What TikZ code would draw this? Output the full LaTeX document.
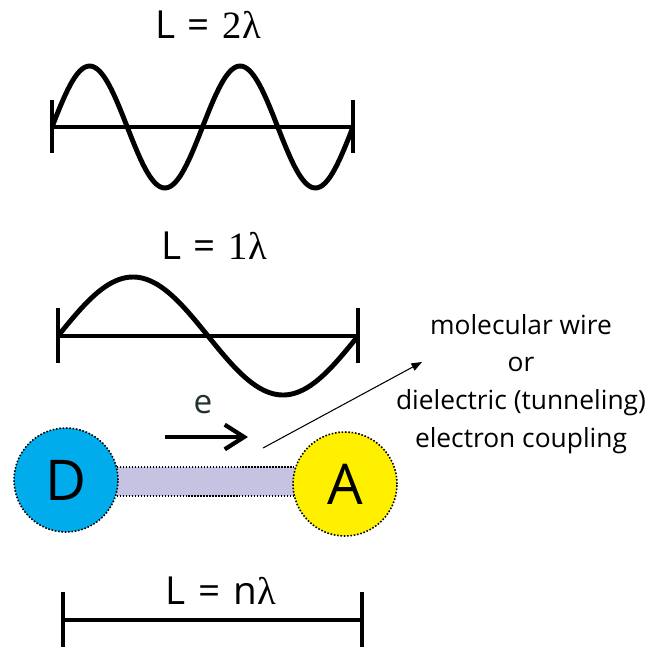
\documentclass[tikz,border=0pt]{standalone}
\usepackage{fontspec}
\setmainfont{Open Sans}
\newfontfamily\lamfont{Liberation Serif}
\usetikzlibrary{positioning, arrows.meta, calc}

\newcommand{\lam}{{\lamfont λ}}

\begin{document}
\begin{tikzpicture}[
    x=0.02cm,
    y=-0.02cm,
    wave/.style={line width=2.8pt, line join=round},
    bar/.style={line width=2.6pt},
    lengthlabel/.style={font=\fontsize{22}{26}\selectfont, inner sep=0pt},
    site/.style={circle, minimum size=2.08cm, inner sep=0pt,
        draw=black, densely dotted, line width=0.9pt,
        font=\fontsize{32}{36}\selectfont},
    wire/.style={rectangle, fill=colWire, draw=black, densely dotted,
        line width=0.7pt, minimum height=0.58cm, inner sep=0pt}
]

\definecolor{colD}{RGB}{0,172,236}
\definecolor{colA}{RGB}{255,240,0}
\definecolor{colWire}{RGB}{197,195,225}
\definecolor{colE}{RGB}{30,52,44}

\useasboundingbox (0,0) rectangle (663,650);

% two wavelengths
\node[lengthlabel] (twolam) at (208,25) {L\,\,=\,\,{\lamfont 2}\lam};
\draw[bar] (52,127) -- (353,127);
\foreach \xt in {52, 353} {
    \draw[bar] (\xt,100) -- (\xt,153);
}
\draw[wave] plot[domain=0:1, samples=120, smooth] ({52+301*\x}, {127-61*sin(720*\x)});

% one wavelength
\node[lengthlabel] (onelam) at (214,246) {L\,\,=\,\,{\lamfont 1}\lam};
\draw[bar] (58,336) -- (358,336);
\foreach \xt in {58, 358} {
    \draw[bar] (\xt,308) -- (\xt,363);
}
\draw[wave] plot[domain=0:1, samples=100, smooth] ({58+300*\x}, {336-59*sin(360*\x)});

% donor -- bridge -- acceptor
\node[wire, minimum width=5.58cm] (bridge) at (205.5,481.5) {};
\node[site, fill=colD] (D) at (66,480) {D};
\node[site, fill=colA] (A) at (345,484) {A};

\node[text=colE, font=\fontsize{19}{22}\selectfont, inner sep=0pt] (elabel) at (203,405) {e};
\coordinate (eFrom) at (165,437);
\coordinate (eTo) at (248,437);
\draw[line width=2.4pt, -{Straight Barb[length=11pt 0, width=14pt 0]}] (eFrom) -- (eTo);

\node[align=center, font=\fontsize{15}{21.5}\selectfont] (coupling) at (521,384)
    {molecular wire\\ or\\ dielectric (tunneling)\\ electron coupling};
\coordinate (pointFrom) at (263,448);
\coordinate (pointTo) at (422,362);
\draw[line width=0.6pt, -{Triangle[length=6pt, width=4.5pt]}] (pointFrom) -- (pointTo);

% n wavelengths
\node[lengthlabel] (nlam) at (221,591) {L\,\,=\,\,n\lam};
\draw[bar] (63,620) -- (362,620);
\foreach \xt in {63, 362} {
    \draw[bar] (\xt,592) -- (\xt,647);
}

\end{tikzpicture}
\end{document}
